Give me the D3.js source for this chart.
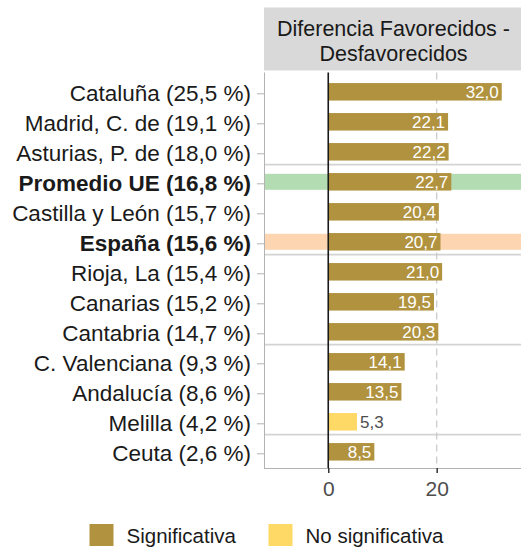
<!DOCTYPE html>
<html>
<head>
<meta charset="utf-8">
<script src="https://cdn.jsdelivr.net/npm/d3@7"></script>
<style>
  body { margin: 0; background: #fff; }
  text { font-family: "Liberation Sans", Arial, sans-serif; }
</style>
</head>
<body>
<script>
var regions = ["Cataluña", "Madrid, C. de", "Asturias, P. de", "Promedio UE", "Castilla y León", "España",
               "Rioja, La", "Canarias", "Cantabria", "C. Valenciana", "Andalucía", "Melilla", "Ceuta"]
var shares = ["25,5", "19,1", "18,0", "16,8", "15,7", "15,6", "15,4", "15,2", "14,7", "9,3", "8,6", "4,2", "2,6"]
var diffs = [32.0, 22.1, 22.2, 22.7, 20.4, 20.7, 21.0, 19.5, 20.3, 14.1, 13.5, 5.3, 8.5]
var significant = [true, true, true, true, true, true, true, true, true, true, true, false, true]
var highlight = {"Promedio UE": "#b3dcb3", "España": "#fdd5b1"}
var xTicks = [0, 20]
var legendLabels = ["Significativa", "No significativa"]
var colors = {sig: "#b1933f", nosig: "#ffd966"}

var width = 521, height = 548
var panel = {left: 264, right: 521, top: 72.5, bottom: 468}

var svg = d3.select("body").append("svg")
    .attr("width", width)
    .attr("height", height)

var data = regions.map(function(r, i) {
    return {region: r, label: r + " (" + shares[i] + " %)", value: diffs[i], sig: significant[i]}
})

var x = d3.scaleLinear().domain([-11.85, 35.55]).range([panel.left, panel.right])
var y = d3.scalePoint().domain(regions).range([93.3, 453.3])
var barH = 17.5, shift = -1.5

// strip
svg.append("rect")
    .attr("x", panel.left).attr("y", 7.5)
    .attr("width", panel.right - panel.left).attr("height", 63)
    .attr("fill", "#d9d9d9")
svg.append("text")
    .attr("x", (panel.left + panel.right) / 2 + 1).attr("y", 36)
    .attr("text-anchor", "middle").attr("font-size", 21.5).attr("fill", "#1a1a1a")
    .text("Diferencia Favorecidos -")
svg.append("text")
    .attr("x", (panel.left + panel.right) / 2 + 1).attr("y", 61)
    .attr("text-anchor", "middle").attr("font-size", 21.5).attr("fill", "#1a1a1a")
    .text("Desfavorecidos")

var plot = svg.append("g")

// highlight bands
plot.selectAll(".hl")
    .data(data.filter(function(d) { return highlight[d.region] }))
    .enter().append("rect")
    .attr("x", panel.left + 1)
    .attr("y", function(d) { return y(d.region) + shift - 8 })
    .attr("width", panel.right - panel.left)
    .attr("height", 16)
    .attr("fill", function(d) { return highlight[d.region] })

// group separators
var seps = [2, 5, 8, 11]
plot.selectAll(".sep")
    .data(seps).enter().append("line")
    .attr("x1", panel.left).attr("x2", panel.right)
    .attr("y1", function(i) { return y(regions[i]) + 11.3 })
    .attr("y2", function(i) { return y(regions[i]) + 11.3 })
    .attr("stroke", "#d3d3d3").attr("stroke-width", 1.6)

// dashed gridline at 20
plot.append("line")
    .attr("x1", x(20)).attr("x2", x(20))
    .attr("y1", panel.top).attr("y2", panel.bottom)
    .attr("stroke", "#c8c8c8").attr("stroke-width", 1.2)
    .attr("stroke-dasharray", "7,5")

// bars
plot.selectAll(".bar")
    .data(data).enter().append("rect")
    .attr("x", x(0))
    .attr("y", function(d) { return y(d.region) + shift - barH / 2 })
    .attr("width", function(d) { return x(d.value) - x(0) })
    .attr("height", barH)
    .attr("fill", function(d) { return d.sig ? colors.sig : colors.nosig })

// value labels
plot.selectAll(".val")
    .data(data).enter().append("text")
    .attr("x", function(d) { return d.sig ? x(d.value) - 3 : x(d.value) + 3 })
    .attr("y", function(d) { return y(d.region) + shift + 6 })
    .attr("text-anchor", function(d) { return d.sig ? "end" : "start" })
    .attr("font-size", 17)
    .attr("fill", function(d) { return d.sig ? "#ffffff" : "#4d4d4d" })
    .text(function(d) { return d3.format(".1f")(d.value).replace(".", ",") })

// zero line
plot.append("line")
    .attr("x1", x(0)).attr("x2", x(0))
    .attr("y1", panel.top).attr("y2", panel.bottom)
    .attr("stroke", "#1a1a1a").attr("stroke-width", 1.6)

// left axis
var yAxis = svg.append("g")
    .attr("transform", "translate(" + panel.left + ",0)")
    .call(d3.axisLeft(y).tickSize(7).tickPadding(6).tickFormat(function(r, i) { return data[i].label }))
yAxis.select(".domain").attr("stroke", "#b3b3b3").attr("d", "M0.5," + panel.top + "V" + panel.bottom)
yAxis.selectAll(".tick line").attr("stroke", "#b3b3b3")
yAxis.selectAll(".tick text")
    .attr("font-size", 22.5).attr("fill", "#1a1a1a")
    .attr("font-family", "'Liberation Sans', Arial, sans-serif")
    .attr("font-weight", function(r) { return highlight[r] ? "bold" : "normal" })

// bottom axis
var xAxis = svg.append("g")
    .attr("transform", "translate(0," + panel.bottom + ")")
    .call(d3.axisBottom(x).tickValues(xTicks).tickSize(5).tickPadding(8).tickFormat(d3.format("d")))
xAxis.select(".domain").attr("stroke", "#b3b3b3").attr("d", "M" + panel.left + ",0.5H" + panel.right)
xAxis.selectAll(".tick line").attr("stroke", "#333").attr("stroke-width", 1.5)
xAxis.selectAll(".tick text")
    .attr("font-size", 21).attr("fill", "#4d4d4d")
    .attr("font-family", "'Liberation Sans', Arial, sans-serif")

// legend
var legend = svg.append("g")
var legX = [89.5, 268.5]
legendLabels.forEach(function(l, i) {
    legend.append("rect")
        .attr("x", legX[i]).attr("y", 524)
        .attr("width", 24).attr("height", 22)
        .attr("fill", i === 0 ? colors.sig : colors.nosig)
    legend.append("text")
        .attr("x", legX[i] + 37).attr("y", 543)
        .attr("font-size", 20.5).attr("fill", "#1a1a1a")
        .text(l)
})
</script>
</body>
</html>
